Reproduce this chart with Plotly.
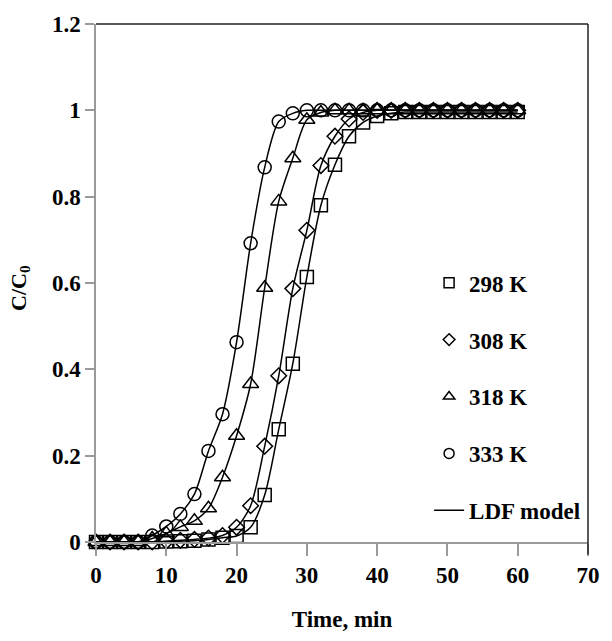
import plotly.graph_objects as go

time_min = [0, 2, 4, 6, 8, 10, 12, 14, 16, 18, 20, 22, 24, 26, 28, 30,
            32, 34, 36, 38, 40, 42, 44, 46, 48, 50, 52, 54, 56, 58, 60]

c_298 = [0, 0, 0, 0, 0, 0.001, 0.002, 0.003, 0.006, 0.010, 0.014,
         0.034, 0.109, 0.261, 0.413, 0.614, 0.780, 0.874, 0.940, 0.972, 0.987,
         0.993, 0.996, 0.996, 0.996, 0.996, 0.996, 0.996, 0.996, 0.996, 0.996]
c_308 = [0, 0, 0, 0, 0, 0.002, 0.004, 0.006, 0.009, 0.015,
         0.034, 0.084, 0.222, 0.385, 0.587, 0.722, 0.872, 0.940, 0.980, 0.995,
         1.0, 1.0, 1.0, 1.0, 1.0, 1.0, 1.0, 1.0, 1.0, 1.0, 1.0]
c_318 = [0, 0, 0, 0, 0.008, 0.020, 0.035, 0.049, 0.078, 0.150, 0.246,
         0.366, 0.589, 0.789, 0.889, 0.978, 0.995,
         1.0, 1.0, 1.0, 1.0, 1.0, 1.0, 1.0, 1.0, 1.0, 1.0, 1.0, 1.0, 1.0, 1.0]
c_333 = [0, 0, 0, 0, 0.015, 0.036, 0.065, 0.111, 0.211, 0.296, 0.463,
         0.692, 0.868, 0.974, 0.993,
         1.0, 1.0, 1.0, 1.0, 1.0, 1.0, 1.0, 1.0, 1.0, 1.0, 1.0, 1.0, 1.0, 1.0, 1.0, 1.0]

series_names = ["298 K", "308 K", "318 K", "333 K"]
series_values = [c_298, c_308, c_318, c_333]
symbols = ["square-open", "diamond-open", "triangle-up-open", "circle-open"]
sizes = [13, 12, 14, 13]
legend_sizes = [10, 9, 10, 10]

x_ticks = [0, 10, 20, 30, 40, 50, 60, 70]
y_ticks = [0, 0.2, 0.4, 0.6, 0.8, 1.0, 1.2]
y_tick_text = ["0", "0.2", "0.4", "0.6", "0.8", "1", "1.2"]

FONT = "Liberation Serif"
GRAY = "#9a9a9a"

fig = go.Figure()

# model curves
for i, (name, vals) in enumerate(zip(series_names, series_values)):
    fig.add_trace(go.Scatter(
        x=time_min, y=vals, mode="lines", name="LDF model",
        showlegend=False, cliponaxis=False,
        line=dict(color="black", width=1.5, shape="spline", smoothing=0.8),
    ))

# measured points
for i, (name, vals) in enumerate(zip(series_names, series_values)):
    fig.add_trace(go.Scatter(
        x=time_min, y=vals, mode="markers", name=name,
        showlegend=False, cliponaxis=False,
        marker=dict(symbol=symbols[i], size=sizes[i], color="black",
                    line=dict(color="black", width=1.5)),
    ))

# legend entries (smaller symbols, as in the reference legend)
for i, name in enumerate(series_names):
    fig.add_trace(go.Scatter(
        x=[None], y=[None], mode="markers", name=name, legendgroup=name,
        marker=dict(symbol=symbols[i], size=legend_sizes[i], color="black",
                    line=dict(color="black", width=1.5)),
    ))
fig.add_trace(go.Scatter(
    x=[None], y=[None], mode="lines", name="LDF model", legendgroup="ldf",
    line=dict(color="black", width=1.5),
))

fig.update_layout(
    width=612, height=641,
    margin=dict(l=96, r=14, t=24, b=99),
    paper_bgcolor="white", plot_bgcolor="white",
    font=dict(family=FONT, size=22, color="black"),
    showlegend=True,
    legend=dict(
        x=0.677, y=0.542, xanchor="left", yanchor="top",
        bgcolor="rgba(0,0,0,0)", borderwidth=0,
        font=dict(family=FONT, size=23, color="black", weight="bold"),
        tracegroupgap=24, itemwidth=30,
    ),
    xaxis=dict(
        range=[0, 70], tickvals=x_ticks, ticks="outside", ticklen=12,
        tickcolor=GRAY, tickwidth=1.5, showline=True, linecolor=GRAY,
        linewidth=1.5, showgrid=False, zeroline=False,
        tickfont=dict(family=FONT, size=23, weight="bold"),
        title=dict(text="<b>Time, min</b>", font=dict(family=FONT, size=23),
                   standoff=24),
    ),
    yaxis=dict(
        range=[0, 1.2], tickvals=y_ticks, ticktext=y_tick_text,
        ticks="outside", ticklen=9, tickcolor=GRAY, tickwidth=1.5,
        showline=True, linecolor=GRAY, linewidth=1.5, showgrid=False,
        zeroline=False,
        tickfont=dict(family=FONT, size=23, weight="bold"),
    ),
    annotations=[dict(
        text="<b>C/C<sub>0</sub></b>", xref="paper", yref="paper",
        x=-0.155, y=0.49, xanchor="center", yanchor="middle",
        textangle=-90, showarrow=False,
        font=dict(family=FONT, size=22, color="black"),
    )],
    shapes=[
        dict(type="line", xref="paper", yref="paper", x0=0, x1=1, y0=1, y1=1,
             line=dict(color="#222222", width=1.5)),
        dict(type="line", xref="paper", yref="paper", x0=1, x1=1, y0=-0.024, y1=1,
             line=dict(color="#222222", width=1.5)),
    ],
)

fig.write_html("out.html")
